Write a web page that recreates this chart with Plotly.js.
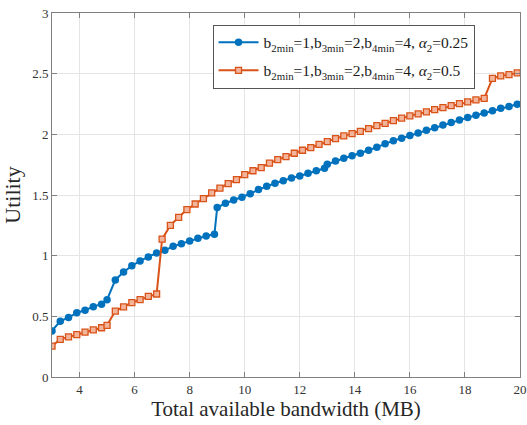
<!DOCTYPE html>
<html>
<head>
<meta charset="utf-8">
<script src="https://cdn.plot.ly/plotly-3.0.1.min.js"></script>
<style>html,body{margin:0;padding:0;background:#fff;}#chart{width:527px;height:425px;}</style>
</head>
<body>
<div id="chart"></div>
<script>
// Series 1: alpha2 = 0.25 (blue)
const xBlue = [3.0,3.3,3.6,3.9,4.2,4.5,4.8,
  5.0,5.3,5.6,5.9,6.2,6.5,6.8,7.1,7.4,7.7,8.0,8.3,8.6,8.9,
  9.0,9.3,9.6,9.9,10.2,10.5,10.8,11.1,11.4,11.7,12.0,12.3,12.6,12.9,
  13.0,13.3,13.6,13.9,14.2,14.5,14.8,15.1,15.4,15.7,16.0,16.3,16.6,16.9,17.2,17.5,17.8,18.1,18.4,18.7,19.0,19.3,19.6,19.9];
const yBlue = [0.38,0.46,0.49,0.53,0.55,0.58,0.60,
  0.637,0.80,0.866,0.916,0.957,0.99,1.022,1.044,1.077,1.099,1.121,1.143,1.162,1.176,
  1.396,1.432,1.459,1.481,1.51,1.545,1.572,1.597,1.618,1.641,1.657,1.679,1.70,1.72,
  1.753,1.78,1.803,1.824,1.844,1.869,1.894,1.922,1.948,1.968,1.99,2.011,2.034,2.055,2.077,2.097,2.119,2.138,2.157,2.176,2.195,2.215,2.229,2.248];
// Series 2: alpha2 = 0.5 (orange)
const xOrange = [3.0,3.3,3.6,3.9,4.2,4.5,4.8,
  5.0,5.3,5.6,5.9,6.2,6.5,6.8,
  7.0,7.3,7.6,7.9,8.2,8.5,8.8,9.1,9.4,9.7,10.0,10.3,10.6,10.9,11.2,11.5,11.8,12.1,12.4,12.7,
  13.0,13.3,13.6,13.9,14.2,14.5,14.8,15.1,15.4,15.7,16.0,16.3,16.6,16.9,17.2,17.5,17.8,18.1,18.4,18.7,
  19.0,19.3,19.6,19.9];
const yOrange = [0.255,0.31,0.33,0.35,0.37,0.388,0.406,
  0.426,0.543,0.578,0.613,0.638,0.664,0.684,
  1.136,1.25,1.316,1.38,1.426,1.47,1.517,1.556,1.594,1.627,1.668,1.70,1.726,1.762,1.792,1.816,1.844,1.869,1.89,1.918,
  1.94,1.965,1.987,2.006,2.025,2.047,2.072,2.09,2.113,2.133,2.152,2.168,2.185,2.204,2.22,2.237,2.253,2.267,2.284,2.297,
  2.462,2.481,2.492,2.506];
const seriesNames = [
  "b<sub>2min</sub>=1,b<sub>3min</sub>=2,b<sub>4min</sub>=4, <i>α</i><sub>2</sub>=0.25",
  "b<sub>2min</sub>=1,b<sub>3min</sub>=2,b<sub>4min</sub>=4, <i>α</i><sub>2</sub>=0.5"
];
const xTicks = [4,6,8,10,12,14,16,18,20];
const yTicks = [0,0.5,1,1.5,2,2.5,3];
const yTickText = ["0","0.5","1","1.5","2","2.5","3"];

const serif = "Liberation Serif, Times New Roman, serif";
const traces = [
  {x: xBlue, y: yBlue, name: seriesNames[0], type: "scatter", mode: "lines+markers", legendgroup: "g1",
   line: {color: "#0072BD", width: 2},
   marker: {symbol: "circle", size: 7.5, color: "#0072BD"}},
  {x: xOrange, y: yOrange, name: seriesNames[1], type: "scatter", mode: "lines+markers", legendgroup: "g2",
   line: {color: "#D95319", width: 2},
   marker: {symbol: "square", size: 6, color: "#F2B49A", line: {color: "#D95319", width: 1.3}}}
];
const axisCommon = {
  showline: true, mirror: "ticks", linecolor: "#808080", linewidth: 1,
  ticks: "inside", ticklen: 5, tickcolor: "#808080",
  showgrid: true, gridcolor: "#e5e5e5", gridwidth: 1, zeroline: false,
  tickfont: {family: serif, size: 13, color: "#333"}
};
const layout = {
  width: 527, height: 425,
  margin: {l: 52, r: 7, t: 13, b: 48},
  paper_bgcolor: "#fff", plot_bgcolor: "#fff",
  showlegend: true,
  xaxis: Object.assign({}, axisCommon, {
    range: [3, 20], tickvals: xTicks, ticktext: xTicks.map(String),
    title: {text: "Total available bandwidth (MB)", font: {family: serif, size: 21, color: "#262626"}, standoff: 5}
  }),
  yaxis: Object.assign({}, axisCommon, {
    range: [0, 3], tickvals: yTicks, ticktext: yTickText,
    title: {text: "Utility", font: {family: serif, size: 22, color: "#262626"}, standoff: 8}
  }),
  legend: {
    x: 0.343, y: 0.968, xanchor: "left", yanchor: "top",
    bgcolor: "#fff", bordercolor: "#555", borderwidth: 1,
    font: {family: serif, size: 15.5, color: "#1a1a1a"},
    tracegroupgap: 5, itemwidth: 40
  }
};
Plotly.newPlot("chart", traces, layout, {staticPlot: true, displayModeBar: false});
</script>
</body>
</html>
